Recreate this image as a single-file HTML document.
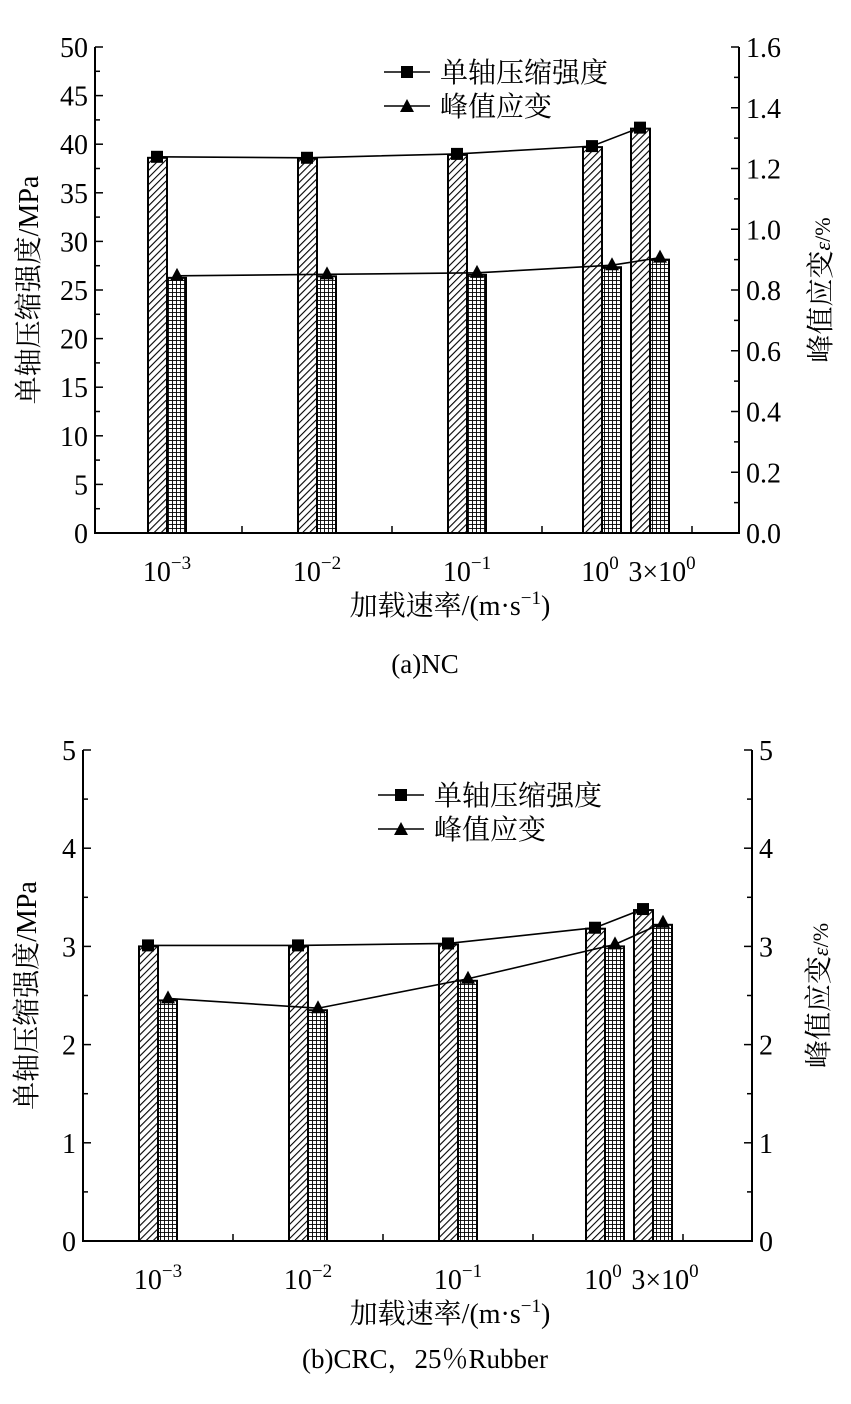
<!DOCTYPE html>
<html><head><meta charset="utf-8">
<style>
html,body{margin:0;padding:0;background:#fff;}
svg text{font-family:"Liberation Serif","Noto Serif CJK SC",serif;fill:#000;}
</style></head>
<body>
<svg id="fig" width="851" height="1399" viewBox="0 0 851 1399" xmlns="http://www.w3.org/2000/svg">
<defs>
<pattern id="hatch" width="5" height="5" patternUnits="userSpaceOnUse" patternTransform="rotate(45)">
<rect width="5" height="5" fill="#fff"/><line x1="0" y1="0" x2="0" y2="5" stroke="#000" stroke-width="2.2"/></pattern>
<pattern id="grid" width="4" height="4" patternUnits="userSpaceOnUse">
<rect width="4" height="4" fill="#fff"/><path d="M0 0H4M0 0V4" stroke="#000" stroke-width="1.8"/></pattern>
</defs>
</svg>
<script>
// Chart (a) NC
const catLabels = ["10^-3","10^-2","10^-1","10^0","3×10^0"];
const catPos = [0, 1, 2, 2.9, 3.22];
const ncStrength = [38.6, 38.5, 38.9, 39.7, 41.6];
const ncStrain = [0.84, 0.845, 0.85, 0.875, 0.9];
const ncLeftTicks = [0,5,10,15,20,25,30,35,40,45,50];
const ncRightTicks = ["0.0","0.2","0.4","0.6","0.8","1.0","1.2","1.4","1.6"];
// Chart (b) CRC
const crcCatPos = [0, 1, 2, 2.98, 3.3];
const crcStrength = [3.0, 3.0, 3.02, 3.18, 3.37];
const crcStrain = [2.45, 2.35, 2.65, 3.0, 3.22];
const crcLeftTicks = [0,1,2,3,4,5];
const crcRightTicks = ["0","1","2","3","4","5"];

const NS = "http://www.w3.org/2000/svg";
const svg = document.getElementById("fig");
function mk(tag, attrs, parent){
  const e = document.createElementNS(NS, tag);
  for (const k in attrs) e.setAttribute(k, attrs[k]);
  (parent||svg).appendChild(e);
  return e;
}
function supText(g, x, y, label, anchor){
  const t = mk("text",{x:x,y:y,"font-size":28,"text-anchor":anchor||"middle"},g);
  const m = label.split("^");
  t.appendChild(document.createTextNode(m[0]));
  if (m[1]!==undefined){
    const s = mk("tspan",{dy:-12,"font-size":19},t);
    s.textContent = m[1].replace("-","−");
  }
  return t;
}

function drawChart(c){
  const g = mk("g",{});
  
  
  const yL = v => c.bottom - v / c.lmax * (c.bottom - c.top);
  const yR = v => c.bottom - v / c.rmax * (c.bottom - c.top);
  const x = p => c.x0 + p * 150;
  c.pos.forEach((p,i)=>{
    const cx = x(p);
    const b1 = mk("rect",{x:cx-19,y:yL(c.s[i]),width:19,height:c.bottom-yL(c.s[i]),fill:"url(#hatch)",stroke:"#000","stroke-width":2},g);
    
    
    const b2 = mk("rect",{x:cx,y:yR(c.e[i]),width:19,height:c.bottom-yR(c.e[i]),fill:"url(#grid)",stroke:"#000","stroke-width":2},g);
    
    
  });
  const l1 = mk("polyline",{points:c.pos.map((p,i)=>(x(p)-10)+","+(yL(c.s[i])-1)).join(" "),fill:"none",stroke:"#000","stroke-width":1.6},g);
  
  
  const l2 = mk("polyline",{points:c.pos.map((p,i)=>(x(p)+10)+","+(yR(c.e[i])-2)).join(" "),fill:"none",stroke:"#000","stroke-width":1.6},g);
  
  
  c.pos.forEach((p,i)=>{
    const m1 = mk("rect",{x:x(p)-16,y:yL(c.s[i])-7,width:12,height:12,fill:"#000"},g);
    
    
    const ty = yR(c.e[i])-2, tx = x(p)+10;
    const m2 = mk("polygon",{points:`${tx-7},${ty+5} ${tx+7},${ty+5} ${tx},${ty-8}`,fill:"#000"},g);
    
    
  });
  const ax = mk("path",{d:`M${c.left} ${c.top}V${c.bottom}H${c.right}V${c.top}`,fill:"none",stroke:"#000","stroke-width":2},g);
  
  
  c.lt.forEach((v,i)=>{
    const y = yL(v);
    mk("line",{x1:c.left,x2:c.left+8,y1:y,y2:y,stroke:"#000","stroke-width":1.5},g);
    if (i<c.lt.length-1){ const ym=(y+yL(c.lt[i+1]))/2; mk("line",{x1:c.left,x2:c.left+5,y1:ym,y2:ym,stroke:"#000","stroke-width":1.5},g); }
    const t = mk("text",{x:c.left-7,y:y+10,"font-size":28,"text-anchor":"end"},g);
    t.textContent = v;
    
    
  });
  c.rt.forEach((v,i)=>{
    const y = yR(parseFloat(v));
    mk("line",{x1:c.right,x2:c.right-8,y1:y,y2:y,stroke:"#000","stroke-width":1.5},g);
    if (i<c.rt.length-1){ const ym=(y+yR(parseFloat(c.rt[i+1])))/2; mk("line",{x1:c.right,x2:c.right-5,y1:ym,y2:ym,stroke:"#000","stroke-width":1.5},g); }
    const t = mk("text",{x:c.right+7,y:y+10,"font-size":28,"text-anchor":"start"},g);
    t.textContent = v;
    
    
  });
  [0.5,1.5,2.5,3.5].forEach(p=>{
    mk("line",{x1:x(p),x2:x(p),y1:c.bottom,y2:c.bottom-7,stroke:"#000","stroke-width":1.5},g);
  });
  catLabels.forEach((lab,i)=>{
    const t = supText(g, x(c.pos[i]) + (i==3?-2:(i==4?12:0)), c.bottom+48, lab);
    
    
  });
  const xt = mk("text",{x:450,y:c.bottom+82,"font-size":28,"text-anchor":"middle"},g);
  
  
  xt.appendChild(document.createTextNode("加载速率/(m·s"));
  const sp = mk("tspan",{dy:-11,"font-size":19},xt); sp.textContent="−1";
  const sp2 = mk("tspan",{dy:11},xt); sp2.textContent=")";
  const yt = mk("text",{x:0,y:0,"font-size":28,"text-anchor":"middle",transform:`translate(${c.lx},${(c.top+c.bottom)/2}) rotate(-90)`},g);
  yt.textContent = "单轴压缩强度/MPa";
  
  
  const rt = mk("text",{x:0,y:0,"font-size":28,"text-anchor":"middle",transform:`translate(${c.rx},${(c.top+c.bottom)/2}) rotate(-90)`},g);
  
  
  rt.appendChild(document.createTextNode("峰值应变"));
  const eps = mk("tspan",{"font-style":"italic","font-size":22},rt); eps.textContent="ε";
  const pc = mk("tspan",{"font-size":22},rt); pc.textContent="/%";
  const lg = mk("g",{},g);
  
  
  mk("line",{x1:c.lgx,x2:c.lgx+46,y1:c.lgy,y2:c.lgy,stroke:"#000","stroke-width":1.5},lg);
  mk("rect",{x:c.lgx+17,y:c.lgy-6,width:12,height:12,fill:"#000"},lg);
  const lt1 = mk("text",{x:c.lgx+56,y:c.lgy+10,"font-size":28},lg); lt1.textContent="单轴压缩强度";
  const y2 = c.lgy+34;
  mk("line",{x1:c.lgx,x2:c.lgx+46,y1:y2,y2:y2,stroke:"#000","stroke-width":1.5},lg);
  mk("polygon",{points:`${c.lgx+16},${y2+6} ${c.lgx+30},${y2+6} ${c.lgx+23},${y2-7}`,fill:"#000"},lg);
  const lt2 = mk("text",{x:c.lgx+56,y:y2+10,"font-size":28},lg); lt2.textContent="峰值应变";
  const cap = mk("text",{x:425,y:c.capy,"font-size":27,"text-anchor":"middle"},g);
  cap.textContent = c.cap;
  
  
}

drawChart({name:"chart-nc",left:95,right:739,top:47,bottom:533,lmax:50,rmax:1.6,x0:167,pos:catPos,s:ncStrength,e:ncStrain,lt:ncLeftTicks,rt:ncRightTicks,lx:38,rx:830,lgx:384,lgy:72,capy:673,cap:"(a)NC"});
drawChart({name:"chart-crc",left:83,right:752,top:750,bottom:1241,lmax:5,rmax:5,x0:158,pos:crcCatPos,s:crcStrength,e:crcStrain,lt:crcLeftTicks,rt:crcRightTicks,lx:36,rx:828,lgx:378,lgy:795,capy:1368,cap:"(b)CRC，25％Rubber"});
</script>
</body></html>
